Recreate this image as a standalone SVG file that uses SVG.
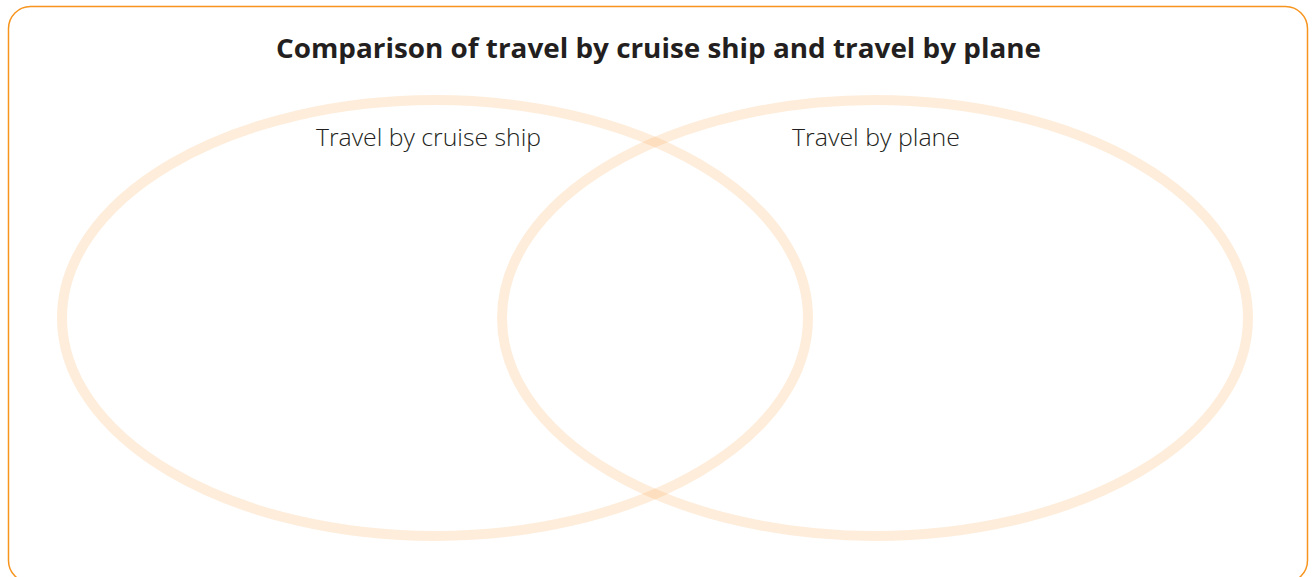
<svg xmlns="http://www.w3.org/2000/svg" width="1314" height="577" viewBox="0 0 1314 577">
  <style>
    .frame { fill: #ffffff; stroke: #f7941d; stroke-width: 1.5; }
    .set { fill: none; stroke: #f9a34d; stroke-opacity: 0.2; stroke-width: 10; }
    .title { font-family: "Open Sans", "Liberation Sans", sans-serif; font-weight: 700; font-size: 26px; fill: #231f20; }
    .label { font-family: "Open Sans", "Liberation Sans", sans-serif; font-weight: 300; font-size: 24px; fill: #231f20; }
  </style>
  <rect width="1314" height="577" fill="#ffffff"/>
  <rect class="frame" x="8.5" y="6.5" width="1299" height="576" rx="22" ry="22"/>
  <text class="title" x="658.5" y="58" text-anchor="middle" textLength="765" lengthAdjust="spacingAndGlyphs">Comparison of travel by cruise ship and travel by plane</text>
  <g id="cruise-ship">
    <ellipse class="set" cx="435" cy="318" rx="373" ry="218"/>
    <text class="label" x="428.5" y="146" text-anchor="middle" textLength="225" lengthAdjust="spacingAndGlyphs">Travel by cruise ship</text>
  </g>
  <g id="plane">
    <ellipse class="set" cx="875" cy="318" rx="373" ry="218"/>
    <text class="label" x="876" y="146" text-anchor="middle" textLength="168" lengthAdjust="spacingAndGlyphs">Travel by plane</text>
  </g>
  <g id="connectors"/>
</svg>
